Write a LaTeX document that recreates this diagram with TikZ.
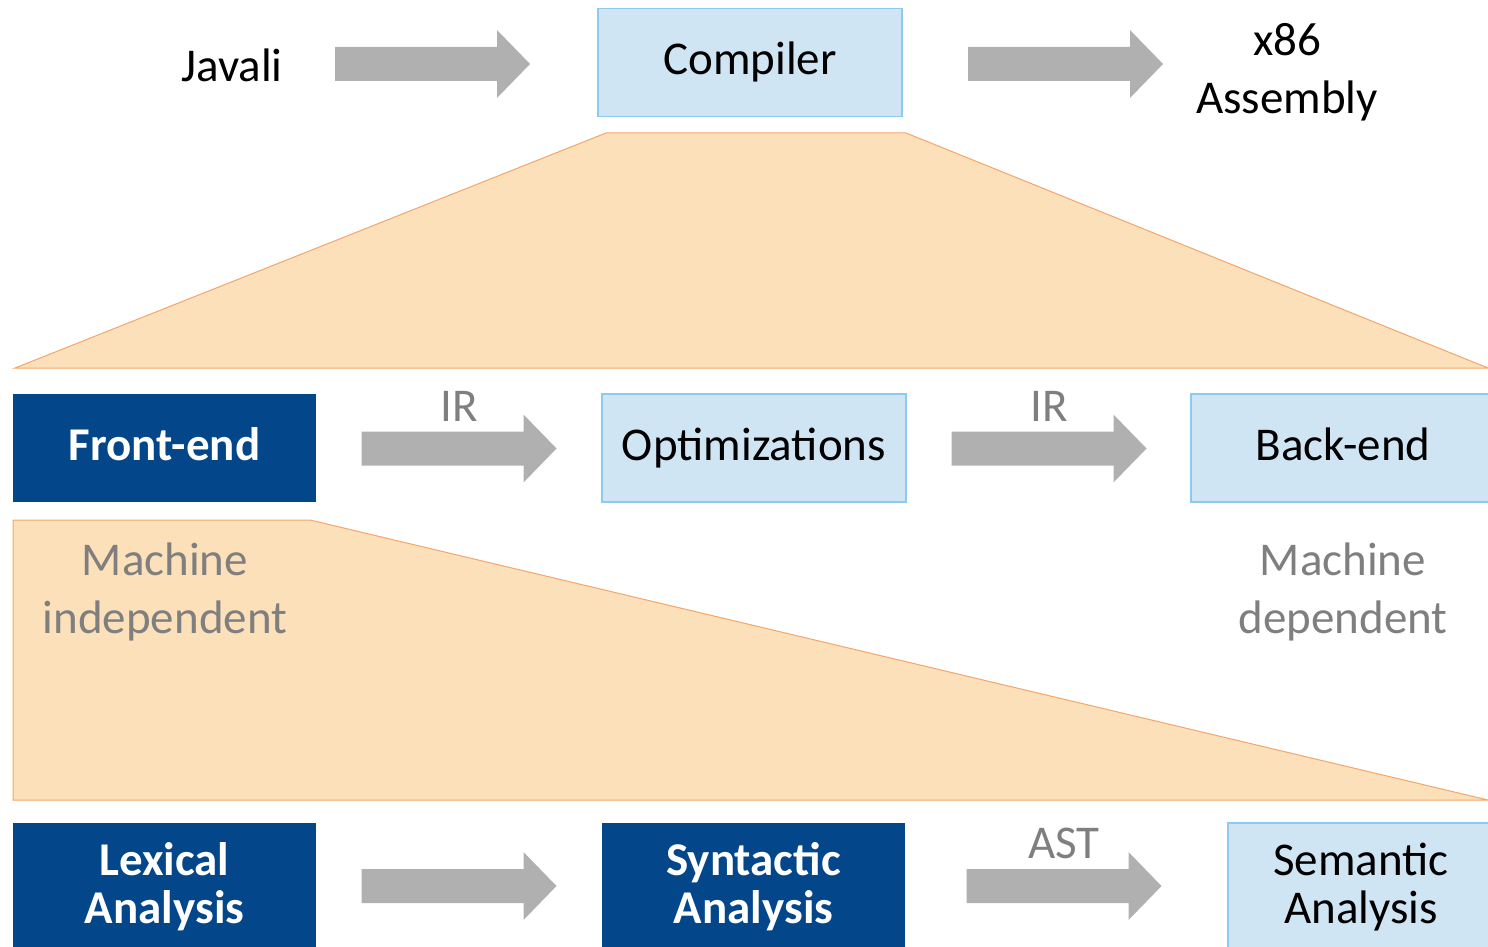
\documentclass[tikz,border=0pt]{standalone}
\usepackage{fontspec}
\setmainfont{Carlito}
\usetikzlibrary{calc}

\definecolor{arrowgray}{HTML}{B0B0B0}
\definecolor{darkblue}{HTML}{03468A}
\definecolor{paleblue}{HTML}{D0E5F4}
\definecolor{paleblueline}{HTML}{8EC9F0}
\definecolor{peach}{HTML}{FCE0BA}
\definecolor{peachline}{HTML}{F4A66A}
\definecolor{labelgray}{HTML}{7F7F7F}

% block arrow centred on a named coordinate
\newcommand\blockarrow[1]{%
  \fill[arrowgray] ($(#1)+(-97.5,-17)$) -- ($(#1)+(64.5,-17)$) -- ($(#1)+(64.5,-34)$)
    -- ($(#1)+(97.5,0)$) -- ($(#1)+(64.5,34)$) -- ($(#1)+(64.5,17)$)
    -- ($(#1)+(-97.5,17)$) -- cycle;}

\begin{document}
\begin{tikzpicture}[x=0.5pt,y=-0.5pt,
  txt/.style={font=\fontsize{23.5}{29}\selectfont, align=center, inner sep=0pt},
  btxt/.style={font=\fontsize{23.5}{24}\selectfont, align=center, inner sep=0pt},
  lightbox/.style={draw=paleblueline, line width=0.75pt, fill=paleblue, inner sep=0pt,
    minimum height=54pt, text height=17pt, text depth=4.6pt,
    font=\fontsize{23.5}{29}\selectfont},
  darkbox/.style={fill=darkblue, inner sep=0pt, minimum height=54pt, text=white,
    text height=17pt, text depth=4.6pt,
    font=\fontsize{23.5}{29}\selectfont\bfseries},
  funnel/.style={fill=peach, draw=peachline, line width=0.5pt},
  graylabel/.style={txt, text=labelgray}]
\useasboundingbox (0,0) rectangle (1488,947);
\clip (0,0) rectangle (1488,947);

% expansion funnels
\draw[funnel] (606,133) -- (906,133) -- (1488,368) -- (15,368) -- cycle;
\draw[funnel] (13,520) -- (310,520) -- (1488,800) -- (13,800) -- cycle;

% top row
\node[txt] (javali) at (232,65) {Javali};
\node[lightbox, minimum width=152pt] (compiler) at (750,62.5) {Compiler};
\node[txt] (asm) at (1287,72) {x86\\Assembly};
\coordinate (a1) at (432.5,64);
\coordinate (a2) at (1065.5,64);
\blockarrow{a1}
\blockarrow{a2}

% middle row
\node[darkbox, minimum width=151.5pt] (front) at (164.5,448) {Front-end};
\node[lightbox, minimum width=152pt] (opt) at (754,448) {Optimizations};
\node[lightbox, minimum width=152pt] (back) at (1343,448) {Back-end};
\coordinate (a3) at (459,448.5);
\coordinate (a4) at (1049,448.5);
\blockarrow{a3}
\blockarrow{a4}
\node[graylabel] (ir1) at (459,406) {IR};
\node[graylabel] (ir2) at (1049,406) {IR};
\node[graylabel] (mind) at (165,592) {Machine\\independent};
\node[graylabel] (mdep) at (1343,592) {Machine\\dependent};

% bottom row
\node[fill=darkblue, inner sep=0pt, minimum width=151.5pt, minimum height=68.5pt] (lex) at (164.5,891.5) {};
\node[fill=darkblue, inner sep=0pt, minimum width=151.5pt, minimum height=68.5pt] (syn) at (753.5,891.5) {};
\node[draw=paleblueline, line width=0.75pt, fill=paleblue, inner sep=0pt, minimum width=133pt, minimum height=68.5pt] (sem) at (1361,891.5) {};
\node[btxt, text=white, font=\fontsize{23.5}{24}\selectfont\bfseries] (lexT) at (164.5,887) {Lexical\\Analysis};
\node[btxt, text=white, font=\fontsize{23.5}{24}\selectfont\bfseries] (synT) at (753.5,887) {Syntactic\\Analysis};
\node[btxt] (semT) at (1361,887) {Semantic\\Analysis};
\coordinate (a5) at (459,886);
\coordinate (a6) at (1064,886);
\blockarrow{a5}
\blockarrow{a6}
\node[graylabel] (ast) at (1064,843) {AST};
\end{tikzpicture}
\end{document}
